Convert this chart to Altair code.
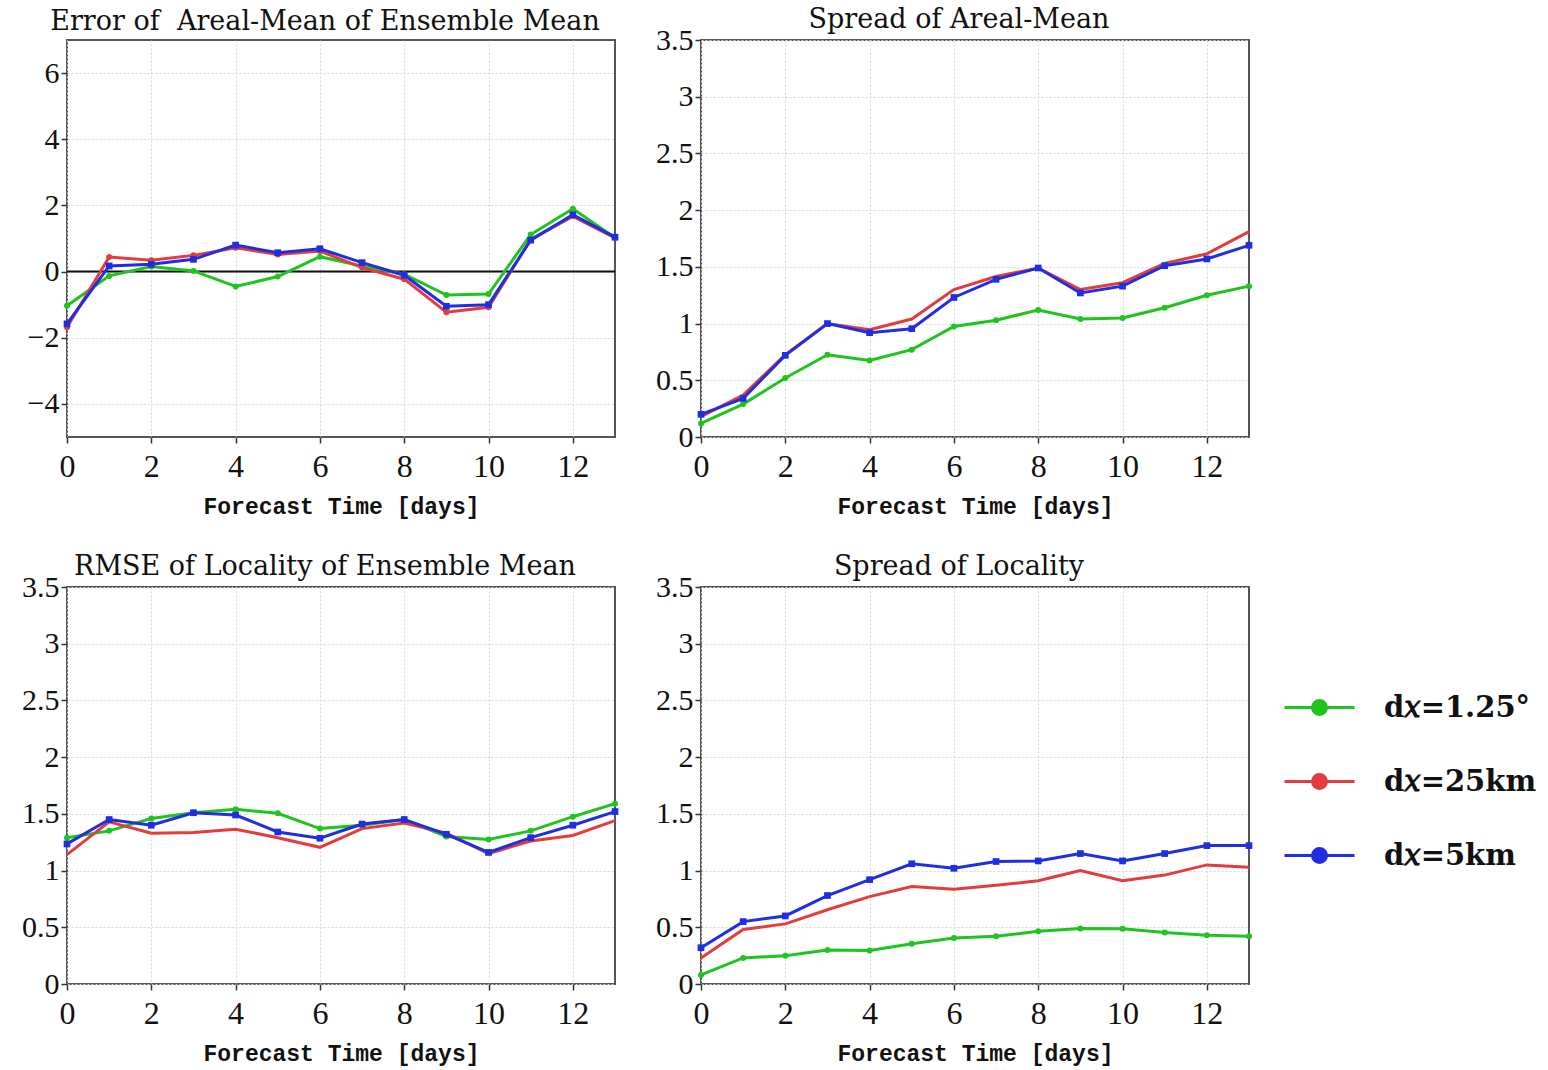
import altair as alt
import pandas as pd

days = list(range(14))
series_names = ["d\U0001D465=1.25°", "d\U0001D465=25km", "d\U0001D465=5km"]
series_colors = ["#1fc41f", "#e43c3c", "#1f2fe0"]

titles = [
    "Error of\u00a0 Areal-Mean of Ensemble Mean",
    "Spread of Areal-Mean",
    "RMSE of Locality of Ensemble Mean",
    "Spread of Locality",
]

# Panel 1: Error of areal-mean of ensemble mean
err_green = [-1.03, -0.13, 0.15, 0.02, -0.45, -0.15, 0.45, 0.17, -0.08, -0.71, -0.68, 1.12, 1.90, 1.02]
err_red = [-1.68, 0.44, 0.34, 0.49, 0.72, 0.52, 0.62, 0.12, -0.23, -1.23, -1.08, 0.97, 1.67, 1.02]
err_blue = [-1.58, 0.17, 0.22, 0.37, 0.80, 0.57, 0.69, 0.27, -0.11, -1.05, -1.00, 0.95, 1.72, 1.04]

# Panel 2: Spread of areal-mean
spa_green = [0.12, 0.29, 0.52, 0.725, 0.675, 0.77, 0.975, 1.03, 1.12, 1.04, 1.05, 1.14, 1.25, 1.33]
spa_red = [0.18, 0.37, 0.725, 1.00, 0.945, 1.04, 1.30, 1.415, 1.49, 1.30, 1.36, 1.53, 1.615, 1.81]
spa_blue = [0.20, 0.34, 0.72, 1.00, 0.92, 0.955, 1.23, 1.39, 1.49, 1.27, 1.33, 1.51, 1.57, 1.69]

# Panel 3: RMSE of locality of ensemble mean
rmse_green = [1.29, 1.35, 1.46, 1.51, 1.54, 1.505, 1.37, 1.40, 1.45, 1.30, 1.275, 1.35, 1.475, 1.59]
rmse_red = [1.14, 1.43, 1.33, 1.335, 1.365, 1.29, 1.205, 1.37, 1.42, 1.33, 1.15, 1.26, 1.31, 1.44]
rmse_blue = [1.235, 1.45, 1.40, 1.51, 1.49, 1.34, 1.285, 1.41, 1.45, 1.32, 1.16, 1.29, 1.40, 1.52]

# Panel 4: Spread of locality
spl_green = [0.08, 0.23, 0.25, 0.30, 0.295, 0.355, 0.405, 0.42, 0.465, 0.49, 0.487, 0.455, 0.43, 0.42]
spl_red = [0.23, 0.48, 0.53, 0.655, 0.77, 0.86, 0.835, 0.87, 0.91, 1.00, 0.91, 0.96, 1.05, 1.03]
spl_blue = [0.32, 0.55, 0.60, 0.78, 0.92, 1.06, 1.02, 1.08, 1.085, 1.15, 1.085, 1.15, 1.22, 1.22]

x_ticks = [0, 2, 4, 6, 8, 10, 12]
y_ticks_err = [-4, -2, 0, 2, 4, 6]
y_ticks_pos = [0, 0.5, 1, 1.5, 2, 2.5, 3, 3.5]

panel_series = [
    [err_green, err_red, err_blue],
    [spa_green, spa_red, spa_blue],
    [rmse_green, rmse_red, rmse_blue],
    [spl_green, spl_red, spl_blue],
]


def make_df(vals):
    rows = []
    for name, arr in zip(series_names, vals):
        for d, v in zip(days, arr):
            rows.append({"day": d, "value": v, "series": name})
    return pd.DataFrame(rows)


TICK_FONT = "Liberation Serif"
TITLE_FONT = "DejaVu Serif"

legend_path = "M-1,0H1M-0.2,0A0.2,0.2 0 1,0 0.2,0A0.2,0.2 0 1,0 -0.2,0Z"


def make_legend():
    return alt.Legend(
        title=None,
        orient="none",
        legendX=1216,
        legendY=631,
        symbolType=legend_path,
        symbolSize=4900,
        symbolStrokeWidth=3,
        labelFont="DejaVu Serif",
        labelFontSize=29,
        labelFontWeight="bold",
        labelColor="#111",
        labelOffset=28,
        rowPadding=22,
        labelLimit=300,
    )


def panel(idx, ydomain, yvalues, title_offset, red_markers=False, zero_line=False,
          show_legend=False):
    df = make_df(panel_series[idx])
    x = alt.X(
        "day:Q",
        scale=alt.Scale(domain=[0, 13], nice=False, zero=False),
        axis=alt.Axis(values=x_ticks, title="Forecast Time [days]", format="d",
                      labelFlush=False),
    )
    y = alt.Y(
        "value:Q",
        scale=alt.Scale(domain=ydomain, nice=False, zero=False),
        axis=alt.Axis(values=yvalues, title=None, format="~g", labelFlush=False,
                      minExtent=50, maxExtent=50),
    )
    cscale = alt.Scale(domain=series_names, range=series_colors)
    stroke = alt.Stroke("series:N", scale=cscale, sort=series_names,
                        legend=make_legend() if show_legend else None)
    fill = alt.Fill("series:N", scale=cscale, sort=series_names,
                    legend=make_legend() if show_legend else None)
    fill_nl = alt.Fill("series:N", scale=cscale, sort=series_names, legend=None)
    layers = []
    if zero_line:
        layers.append(
            alt.Chart(pd.DataFrame({"value": [0]}))
            .mark_rule(color="#111", strokeWidth=2)
            .encode(y=alt.Y("value:Q"))
        )
    layers.append(
        alt.Chart(df).mark_line(strokeWidth=3).encode(x=x, y=y, stroke=stroke)
    )
    circ_names = [series_names[0]] + ([series_names[1]] if red_markers else [])
    circ_df = df[df["series"].isin(circ_names)]
    layers.append(
        alt.Chart(circ_df)
        .mark_point(filled=True, size=36, opacity=1, shape="circle")
        .encode(x=x, y=y, fill=fill)
    )
    sq_df = df[df["series"] == series_names[2]]
    layers.append(
        alt.Chart(sq_df)
        .mark_point(filled=True, size=45, opacity=1, shape="square")
        .encode(x=x, y=y, fill=fill_nl)
    )
    return alt.layer(*layers).properties(
        width=548,
        height=397,
        title=alt.TitleParams(
            text=titles[idx], font=TITLE_FONT, fontSize=27, fontWeight="normal",
            color="#111", offset=title_offset, dx=-16,
        ),
    )


p1 = panel(0, [-5, 7], y_ticks_err, 4, red_markers=True, zero_line=True, show_legend=True)
p2 = panel(1, [0, 3.5], y_ticks_pos, -9)
p3 = panel(2, [0, 3.5], y_ticks_pos, -9)
p4 = panel(3, [0, 3.5], y_ticks_pos, -9)

row1 = alt.hconcat(p1, p2, spacing=28)
row2 = alt.hconcat(p3, p4, spacing=28)

chart = (
    alt.vconcat(row1, row2, spacing=33)
    .properties(padding={"left": 16, "top": 5, "right": 5, "bottom": 5},
                background="white")
    .configure_view(stroke="#555", strokeWidth=2)
    .configure_axis(
        grid=True,
        gridColor="#d6d6d6",
        gridDash=[2, 2],
        gridWidth=1,
        domain=False,
        tickColor="#333",
        tickWidth=1.5,
        tickSize=6,
        labelFont=TICK_FONT,
        labelFontSize=30,
        labelColor="#111",
        labelPadding=2,
        titleFont="Liberation Mono",
        titleFontSize=23,
        titleFontWeight="bold",
        titleColor="#111",
        titlePadding=13,
    )
    .configure_axisX(labelPadding=8, labelFontSize=32)
)

chart.save("out.html", embed_options={"renderer": "svg", "actions": False})
